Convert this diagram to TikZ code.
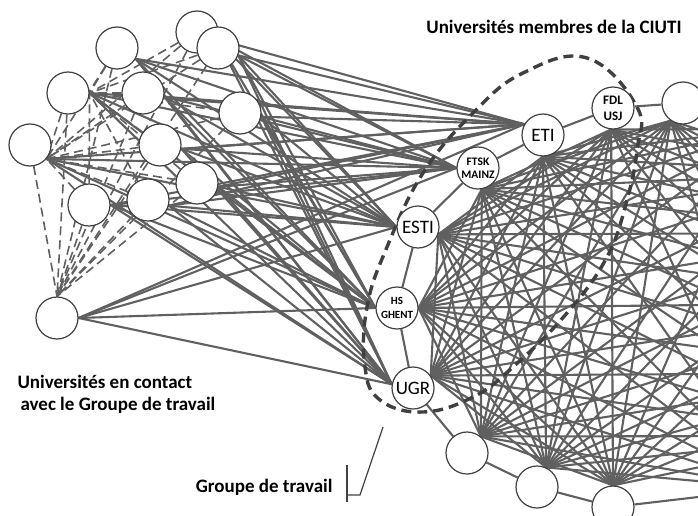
\documentclass[tikz,border=0pt]{standalone}
\usepackage{fontspec}
\setmainfont{Carlito}
\usetikzlibrary{backgrounds}
\definecolor{edgegray}{RGB}{96,96,96}
\definecolor{ringgray}{RGB}{64,64,64}
\begin{document}
\begin{tikzpicture}[x=1pt,y=-1pt,
  uni/.style={circle,draw=ringgray,fill=white,line width=1.2pt,minimum size=42pt,inner sep=0pt,font=\fontsize{19}{19}\selectfont},
  small uni/.style={uni,align=center,font=\bfseries\fontsize{11.5}{13}\selectfont},
  link/.style={draw=edgegray,line width=2.1pt},
  contact/.style={draw=edgegray,line width=1.6pt,dash pattern=on 9pt off 5pt},
  members/.style={draw=ringgray,line width=3.4pt,dash pattern=on 10pt off 6pt},
  bracket/.style={draw=ringgray,line width=1.2pt},
  title/.style={font=\bfseries\fontsize{19}{22}\selectfont}]
\useasboundingbox (0,0) rectangle (698,516);
\clip (0,0) rectangle (698,516);
% universites en contact
\node [uni] (c2) at (197,32) {};
\node [uni] (c3) at (218,48) {};
\node [uni] (c1) at (117,48) {};
\node [uni] (c4) at (68,93) {};
\node [uni] (c5) at (143,93) {};
\node [uni] (c6) at (240,113) {};
\node [uni] (c7) at (30,145) {};
\node [uni] (c8) at (160,145) {};
\node [uni] (c9) at (197,183) {};
\node [uni] (c10) at (89,205) {};
\node [uni] (c11) at (148,200) {};
\node [uni] (c12) at (57,318) {};
% universites membres
\node [uni] (eti) at (543,135) {ETI};
\node [small uni,font=\bfseries\fontsize{13}{16}\selectfont] (fdl) at (613,108) {FDL\\USJ};
\node [small uni] (ftsk) at (478,168) {FTSK\\MAINZ};
\node [uni] (esti) at (418,227) {ESTI};
\node [small uni,font=\bfseries\fontsize{11}{14}\selectfont] (hs) at (397,308) {HS\\GHENT};
\node [uni] (ugr) at (413,388) {UGR};
\node [uni] (r1) at (683,103) {};
\node [uni] (b1) at (467,453) {};
\node [uni] (b2) at (537,487) {};
\node [uni] (b3) at (613,507) {};
\node [uni] (o1) at (767,129) {};
\node [uni] (o2) at (836,173) {};
\node [uni] (o3) at (882,233) {};
\node [uni] (o4) at (900,303) {};
\node [uni] (o5) at (888,373) {};
\node [uni] (o6) at (847,436) {};
\node [uni] (o7) at (775,488) {};
% labels
\node [title] (ciuti) at (554,27) {Universités membres de la CIUTI};
\node [title,align=left,anchor=west] (contact) at (14,394) {Universités en contact\\\hspace{3pt}avec le Groupe de travail};
\node [title,anchor=east] (groupe) at (336,487) {Groupe de travail};
\coordinate (g1) at (347,465);
\coordinate (g2) at (347,502);
\coordinate (g3) at (347,495);
\coordinate (g4) at (360,495);
\coordinate (g5) at (383,427);
\draw [bracket] (g1) -- (g2);
\draw [bracket] (g3) -- (g4) -- (g5);
\begin{pgfonlayer}{background}
% contacts entre universites
\foreach \c in {c1,c2,c3,c5,c6,c8,c9,c10,c11}
  \foreach \t/\q in {c4/0,c7/-40,c12/90}
    \draw [contact] (\c) -- (\t.\q);
\draw [contact] (c4) -- (c7.-40);
\draw [contact] (c4) -- (c12.90);
\draw [contact] (c7) -- (c12.90);
% liens vers les membres
\foreach \c/\p in {c1/-30,c2/-20,c3/-20,c4/0,c5/-10,c6/-10,c7/-40,c8/-10,c9/-10,c10/0,c11/-15,c12/0}
  \foreach \t/\q in {eti/150,ftsk/180,esti/180,hs/180,ugr/170}
    \draw [link] (\c.\p) -- (\t.\q);
% reseau
\foreach \a/\p [count=\i] in {hs/0,esti/-20,ftsk/-80,eti/-90,fdl/-95,r1/-125,o1/center,o2/center,o3/center,o4/center,o5/center,o6/center,o7/center,b3/90,b2/65,b1/50,ugr/35}
  \foreach \b/\q [count=\j] in {hs/0,esti/-20,ftsk/-80,eti/-90,fdl/-95,r1/-125,o1/center,o2/center,o3/center,o4/center,o5/center,o6/center,o7/center,b3/90,b2/65,b1/50,ugr/35}
    {\pgfmathtruncatemacro\k{\j-\i}
     \ifnum\k>1 \ifnum\k<16 \draw [link] (\a.\p) -- (\b.\q); \fi\fi}
\draw [link] (hs) -- (esti) -- (ftsk) -- (eti) -- (fdl) -- (r1) -- (o1);
\draw [link] (hs) -- (ugr) -- (b1) -- (b2) -- (b3) -- (o7);
\draw [members] plot [smooth cycle,tension=0.7] coordinates {(587,58) (637,107) (637,150) (627,200) (607,257) (567,313) (513,367) (473,397) (423,412) (380,400) (365,367) (367,307) (387,247) (423,173) (473,113) (523,73)};
\end{pgfonlayer}
\end{tikzpicture}
\end{document}
